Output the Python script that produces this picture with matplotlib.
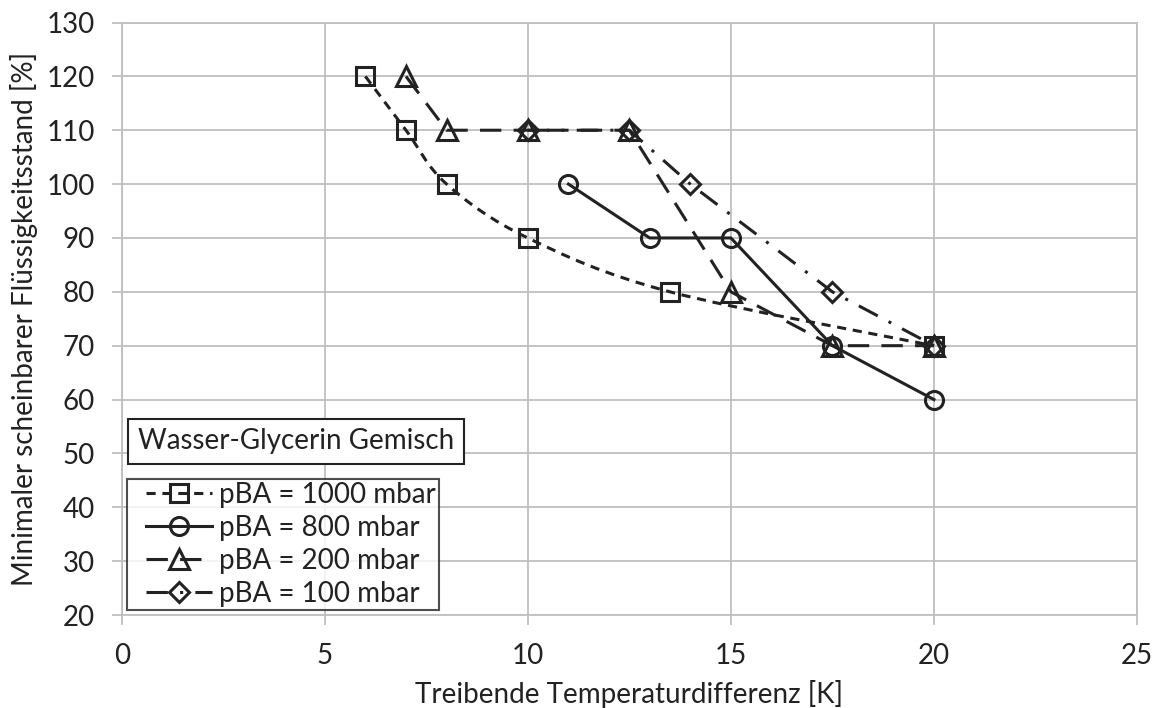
import numpy as np
import matplotlib
matplotlib.use("Agg")
import matplotlib.pyplot as plt
from matplotlib.path import Path
from matplotlib.patches import PathPatch
from matplotlib.lines import Line2D
from matplotlib.legend_handler import HandlerLine2D

plt.rcParams['font.family'] = ['Lato', 'DejaVu Sans']

x_1000 = [6, 7, 8, 10, 13.5, 20]
y_1000 = [120, 110, 100, 90, 80, 70]
x_800 = [11, 13, 15, 17.5, 20]
y_800 = [100, 90, 90, 70, 60]
x_200 = [7, 8, 10, 12.5, 15, 17.5, 20]
y_200 = [120, 110, 110, 110, 80, 70, 70]
x_100 = [10, 12.5, 14, 17.5, 20]
y_100 = [110, 110, 100, 80, 70]

labels = ['pBA = 1000 mbar', 'pBA = 800 mbar', 'pBA = 200 mbar', 'pBA = 100 mbar']
xticks = [0, 5, 10, 15, 20, 25]
yticks = [20, 30, 40, 50, 60, 70, 80, 90, 100, 110, 120, 130]

ink = '#222222'
grid = '#bfbfbf'
fs = 20
W, H = 1158, 708
fig = plt.figure(figsize=(W/100, H/100), dpi=100)
L, R, T, B = 121.7, 1137.0, 22.5, 615.0
ax = fig.add_axes([L/W, 1-B/H, (R-L)/W, (B-T)/H])

lw = 2.2
ms = 13
mew = 2.2

# 1000 mbar: smoothed line (Excel-style Bezier smoothing) + markers
def smooth_path(xv, yv):
    p = np.column_stack([xv, yv]).astype(float)
    n = len(p)
    verts = [p[0]]
    codes = [Path.MOVETO]
    for i in range(n - 1):
        p0 = p[i - 1] if i > 0 else p[i]
        p3 = p[i + 2] if i + 2 < n else p[i + 1]
        c1 = p[i] + (p[i + 1] - p0) / 6.0
        c2 = p[i + 1] - (p3 - p[i]) / 6.0
        verts += [c1, c2, p[i + 1]]
        codes += [Path.CURVE4] * 3
    return Path(verts, codes)

patch = PathPatch(smooth_path(x_1000, y_1000), fc='none', ec=ink, lw=lw,
                  linestyle=(0, (3, 2.2)), zorder=4)
ax.add_patch(patch)
ax.plot(x_1000, y_1000, linestyle='none', marker='s', ms=ms, mew=mew,
        mfc='none', mec=ink, zorder=3)
h1000 = Line2D([], [], color=ink, lw=lw, dashes=(3, 2.2), marker='s', ms=ms, mew=mew,
               mfc='none', mec=ink)

l800, = ax.plot(x_800, y_800, color=ink, lw=lw, marker='o', ms=ms, mew=mew,
                mfc='none', mec=ink, zorder=3)
l200, = ax.plot(x_200, y_200, color=ink, lw=lw, dashes=(7, 4), marker='^', ms=ms+1, mew=mew,
                mfc='none', mec=ink, zorder=3)
l100, = ax.plot(x_100, y_100, color=ink, lw=lw, dashes=(7, 4, 1, 4), marker='D', ms=ms-3, mew=mew,
                mfc='none', mec=ink, zorder=2)

ax.set_xlim(0, 25)
ax.set_ylim(20, 130)
ax.set_xticks(xticks)
ax.set_yticks(yticks)
ax.grid(True, color=grid, lw=1.3)
ax.set_axisbelow(True)
for s in ax.spines.values():
    s.set_color(grid)
    s.set_linewidth(1.3)
ax.tick_params(length=7, width=1.3, color=grid, direction='out', labelsize=fs, labelcolor=ink)
ax.tick_params(axis='x', pad=13)
ax.tick_params(axis='y', pad=12.5)
ax.set_xlabel('Treibende Temperaturdifferenz [K]', fontsize=fs, color=ink, labelpad=8)
ax.set_ylabel('Minimaler scheinbarer Flüssigkeitsstand [%]', fontsize=fs, color=ink, labelpad=6)

ax.text((138 - L)/(R - L), (B - 441.5)/(B - T), 'Wasser-Glycerin Gemisch', transform=ax.transAxes,
        fontsize=fs, color=ink, va='center', ha='left',
        bbox=dict(boxstyle='square,pad=0.35', fc='white', ec=ink, lw=1.5))

leg = ax.legend([h1000, l800, l200, l100], labels,
                handler_map={Line2D: HandlerLine2D(xpad=0.55)},
                loc='lower left', bbox_to_anchor=((127 - L)/(R - L), (B - 610)/(B - T)),
                fontsize=fs, frameon=True, fancybox=False, handlelength=2.95,
                handletextpad=0.25, borderpad=0.12, labelspacing=0.25, borderaxespad=0)
leg.get_frame().set_edgecolor(ink)
leg.get_frame().set_linewidth(1.5)
for t in leg.get_texts():
    t.set_color(ink)

fig.savefig('out.png', dpi=100)
